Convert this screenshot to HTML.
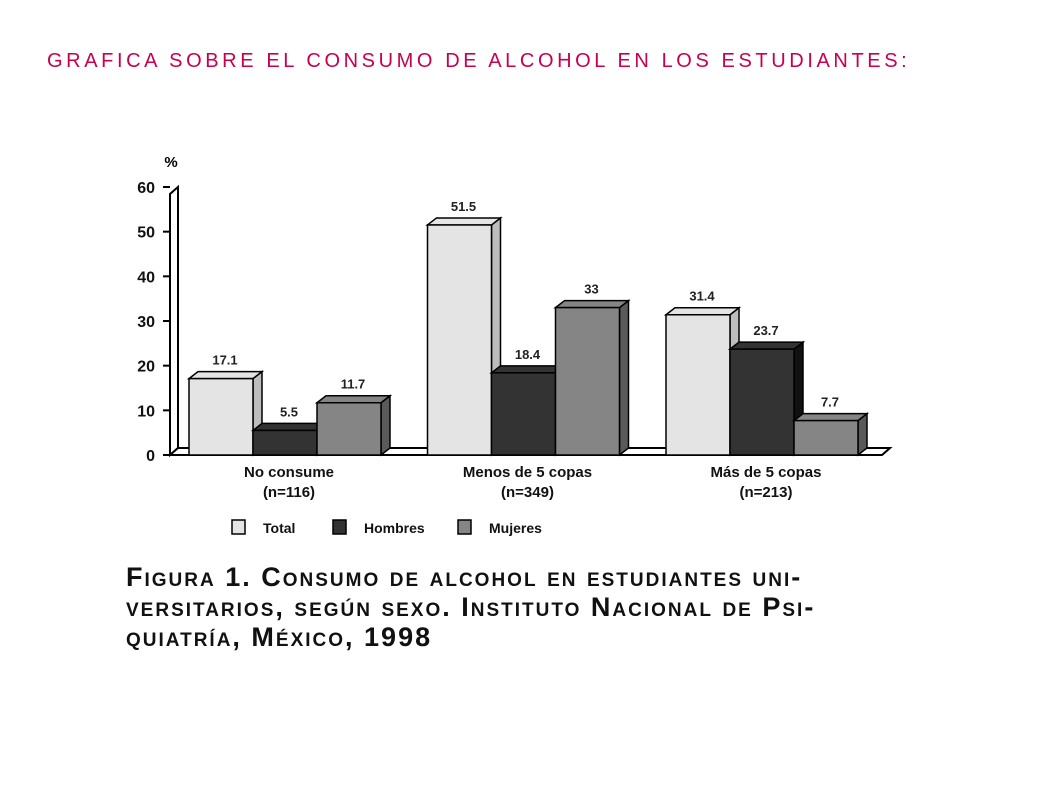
<!DOCTYPE html>
<html><head><meta charset="utf-8"><style>
body{margin:0;background:#fff;width:1058px;height:793px;overflow:hidden;font-family:"Liberation Sans",sans-serif}
#title{position:absolute;left:47px;top:50px;font-size:20px;color:#c8004e;letter-spacing:3.6px;white-space:nowrap}
#caption{position:absolute;left:126px;top:562px;font-size:27px;font-weight:bold;font-variant:small-caps;line-height:30px;color:#111;letter-spacing:2px;white-space:nowrap}
</style></head><body>
<div id="title">GRAFICA SOBRE EL CONSUMO DE ALCOHOL EN LOS ESTUDIANTES:</div>
<svg id="chart" width="1058" height="793" style="position:absolute;left:0;top:0"></svg>
<div id="caption">Figura 1. Consumo de alcohol en estudiantes uni-<br>versitarios, según sexo. Instituto Nacional de Psi-<br>quiatría, México, 1998</div>
<script>
const categories=["No consume","Menos de 5 copas","Más de 5 copas"];
const subLabels=["(n=116)","(n=349)","(n=213)"];
const seriesNames=["Total","Hombres","Mujeres"];
const totalVals=[17.1,51.5,31.4];
const hombresVals=[5.5,18.4,23.7];
const mujeresVals=[11.7,33,7.7];
const yTicks=[0,10,20,30,40,50,60];
const colors=["#e4e4e4","#333333","#858585"];
const sides=["#bdbdbd","#111","#5a5a5a"];
const svg=document.getElementById('chart');
const NS="http://www.w3.org/2000/svg";
function mk(t,a,txt){const e=document.createElementNS(NS,t);for(const k in a)e.setAttribute(k,a[k]);if(txt!=null)e.textContent=txt;svg.appendChild(e);return e;}
const y0=455,y60=187,dx=9,dy=7;
const y=v=>y0-(v-0)*(y0-y60)/60;
const groupX=i=>189+i*238.5, barW=64;
let e=mk('path',{d:`M170 ${y0} L170 ${y(60)+dy} L178 ${y(60)} L178 ${y0-dy} Z`,fill:'#fff',stroke:'#000','stroke-width':2});

e=mk('path',{d:`M170 ${y0} L178 ${y0-dy} L890 ${y0-dy} L882 ${y0} Z`,fill:'#fff',stroke:'#000','stroke-width':2});

yTicks.forEach(t=>{
 e=mk('line',{x1:163,x2:170,y1:y(t),y2:y(t),stroke:'#000','stroke-width':2});
 
 e=mk('text',{x:155,y:y(t)+6,'text-anchor':'end','font-size':16,'font-weight':'bold',fill:'#111'},t);
 
});
e=mk('text',{x:171,y:167,'text-anchor':'middle','font-size':15,'font-weight':'bold'},'%');

const all=[totalVals,hombresVals,mujeresVals];
categories.forEach((c,i)=>{
 all.forEach((arr,s)=>{
  const v=arr[i],x=groupX(i)+s*barW,top=y(v);
  e=mk('path',{d:`M${x+barW} ${top} L${x+barW+dx} ${top-dy} L${x+barW+dx} ${y0-dy} L${x+barW} ${y0} Z`,fill:sides[s],stroke:'#000','stroke-width':1.5});
  
  e=mk('path',{d:`M${x} ${top} L${x+dx} ${top-dy} L${x+barW+dx} ${top-dy} L${x+barW} ${top} Z`,fill:colors[s],stroke:'#000','stroke-width':1.5});
  
  e=mk('rect',{x:x,y:top,width:barW,height:y0-top,fill:colors[s],stroke:'#000','stroke-width':1.5});
  
  e=mk('text',{x:x+barW/2+4,y:top-dy-7,'text-anchor':'middle','font-size':13,'font-weight':'bold',fill:'#222'},String(v));
  
 });
 const cx=groupX(i)+barW*1.5+4;
 e=mk('text',{x:cx,y:477,'text-anchor':'middle','font-size':15,'font-weight':'bold',fill:'#111'},c);
 
 e=mk('text',{x:cx,y:497,'text-anchor':'middle','font-size':15,'font-weight':'bold',fill:'#111'},subLabels[i]);
 
});
const legX=[232,333,458];
seriesNames.forEach((n,s)=>{
 e=mk('rect',{x:legX[s],y:520,width:13,height:14,fill:colors[s],stroke:'#000','stroke-width':1.5});
 
 e=mk('text',{x:legX[s]+31,y:533,'font-size':14,'font-weight':'bold',fill:'#111'},n);
 
});
</script>
</body></html>
